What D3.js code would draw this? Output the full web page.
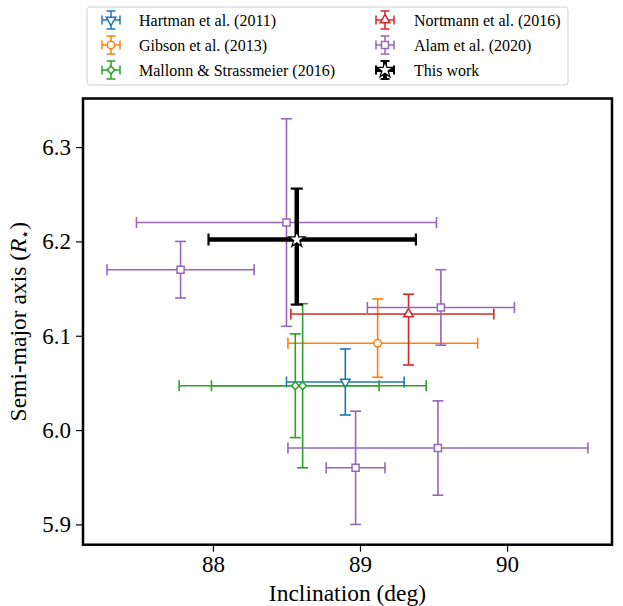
<!DOCTYPE html>
<html>
<head>
<meta charset="utf-8">
<script src="https://cdn.jsdelivr.net/npm/d3@7"></script>
<style>
  body { margin: 0; background: #fff; }
  svg text { font-family: 'Liberation Serif', 'Times New Roman', serif; fill: #000; }
</style>
</head>
<body>
<div id="chart"></div>
<script>
var svgWidth = 623;
var svgHeight = 606;

var margin = { top: 98.5, right: 11, bottom: 61.3, left: 83 };
var width = svgWidth - margin.left - margin.right;
var height = svgHeight - margin.top - margin.bottom;

// studies (legend order)
var studies = ["Hartman et al. (2011)", "Gibson et al. (2013)", "Mallonn & Strassmeier (2016)",
               "Nortmann et al. (2016)", "Alam et al. (2020)", "This work"];

// one entry per measurement
var pointStudy = [0, 1, 2, 2, 3, 4, 4, 4, 4, 4, 5];
var incl       = [88.90, 89.12, 88.56, 88.61, 89.33, 88.50, 87.78, 89.55, 89.53, 88.97, 88.57];
var inclLo     = [0.40, 0.61, 0.57, 0.84, 0.80, 1.02, 0.50, 0.50, 1.02, 0.20, 0.60];
var inclHi     = [0.40, 0.68, 0.57, 0.84, 0.58, 1.02, 0.50, 0.50, 1.02, 0.20, 0.81];
var semiA      = [6.051, 6.092, 6.047, 6.047, 6.123, 6.220, 6.170, 6.130, 5.981, 5.960, 6.202];
var semiLo     = [0.035, 0.036, 0.055, 0.087, 0.054, 0.110, 0.030, 0.040, 0.050, 0.060, 0.069];
var semiHi     = [0.035, 0.047, 0.055, 0.087, 0.021, 0.110, 0.030, 0.040, 0.050, 0.060, 0.054];

var xTicks = [88, 89, 90];
var yTicks = [5.9, 6.0, 6.1, 6.2, 6.3];

// styling per study
var colors = ["#1f77b4", "#ff7f0e", "#2ca02c", "#d62728", "#9467bd", "#000000"];
var markers = ["down", "circle", "diamond", "up", "square", "star"];

var serif = "'Liberation Serif', 'Times New Roman', serif";

var data = pointStudy.map(function(s, i) {
  return { s: s, x: incl[i], xlo: inclLo[i], xhi: inclHi[i], y: semiA[i], ylo: semiLo[i], yhi: semiHi[i] };
});

var svg = d3.select("#chart")
  .append("svg")
  .attr("width", svgWidth)
  .attr("height", svgHeight)
  .attr("font-family", serif);

var chartGroup = svg.append("g")
  .attr("transform", `translate(${margin.left}, ${margin.top})`);

// matplotlib-like 5% margins
function padded(lo, hi) {
  var r = hi - lo;
  return [lo - 0.05 * r, hi + 0.05 * r];
}

var xLinearScale = d3.scaleLinear()
  .domain(padded(d3.min(data, d => d.x - d.xlo), d3.max(data, d => d.x + d.xhi)))
  .range([0, width]);

var yLinearScale = d3.scaleLinear()
  .domain(padded(d3.min(data, d => d.y - d.ylo), d3.max(data, d => d.y + d.yhi)))
  .range([height, 0]);

// axes
var bottomAxis = d3.axisBottom(xLinearScale).tickValues(xTicks).tickSize(7).tickPadding(4).tickFormat(d3.format("d"));
var leftAxis = d3.axisLeft(yLinearScale).tickValues(yTicks).tickSize(7).tickPadding(5).tickFormat(d3.format(".1f"));

var xAxis = chartGroup.append("g")
  .attr("transform", `translate(0, ${height})`)
  .call(bottomAxis);
var yAxis = chartGroup.append("g")
  .call(leftAxis);

[xAxis, yAxis].forEach(function(ax) {
  ax.attr("font-family", serif).attr("font-size", 23);
  ax.select(".domain").remove();
  ax.selectAll("line").attr("stroke", "#000").attr("stroke-width", 1.2);
  ax.selectAll("text").attr("fill", "#000");
});

function markerPath(type) {
  if (type === "down") return d3.symbol(d3.symbolTriangle, 40)();
  if (type === "up") return d3.symbol(d3.symbolTriangle, 40)();
  if (type === "circle") return d3.symbol(d3.symbolCircle, 44)();
  if (type === "diamond") return d3.symbol(d3.symbolSquare, 30)();
  if (type === "square") return d3.symbol(d3.symbolSquare, 50)();
  return d3.symbol(d3.symbolStar, 80)();
}
function markerRot(type) {
  if (type === "down") return 180;
  if (type === "diamond") return 45;
  return 0;
}

// error bars + markers
var plotArea = chartGroup.append("g");

studies.forEach(function(name, si) {
  var pts = data.filter(d => d.s === si);
  var c = colors[si];
  var thick = si === 5;
  var lw = thick ? 4.5 : 1.6;
  var cap = thick ? 6 : 5.5;
  var capw = thick ? 2.2 : 1.6;
  var g = plotArea.append("g");

  pts.forEach(function(d) {
    var cx = xLinearScale(d.x), cy = yLinearScale(d.y);
    var x0 = xLinearScale(d.x - d.xlo), x1 = xLinearScale(d.x + d.xhi);
    var y0 = yLinearScale(d.y - d.ylo), y1 = yLinearScale(d.y + d.yhi);
    g.append("line").attr("x1", x0).attr("x2", x1).attr("y1", cy).attr("y2", cy)
      .attr("stroke", c).attr("stroke-width", lw);
    g.append("line").attr("x1", cx).attr("x2", cx).attr("y1", y0).attr("y2", y1)
      .attr("stroke", c).attr("stroke-width", lw);
    [x0, x1].forEach(function(xx) {
      g.append("line").attr("x1", xx).attr("x2", xx).attr("y1", cy - cap).attr("y2", cy + cap)
        .attr("stroke", c).attr("stroke-width", capw);
    });
    [y0, y1].forEach(function(yy) {
      g.append("line").attr("x1", cx - cap).attr("x2", cx + cap).attr("y1", yy).attr("y2", yy)
        .attr("stroke", c).attr("stroke-width", capw);
    });
  });

  g.selectAll("path.mk")
    .data(pts)
    .enter()
    .append("path")
    .attr("class", "mk")
    .attr("d", markerPath(markers[si]))
    .attr("transform", d => `translate(${xLinearScale(d.x)}, ${yLinearScale(d.y)}) rotate(${markerRot(markers[si])})`)
    .attr("fill", "#fff")
    .attr("stroke", c)
    .attr("stroke-width", thick ? 1.2 : 1.5);
});

// frame
chartGroup.append("rect")
  .attr("x", 0).attr("y", 0)
  .attr("width", width).attr("height", height)
  .attr("fill", "none")
  .attr("stroke", "#000")
  .attr("stroke-width", 2.5);

// axis labels
chartGroup.append("text")
  .attr("x", width / 2)
  .attr("y", height + 56)
  .attr("text-anchor", "middle")
  .attr("font-size", 23.5)
  .text("Inclination (deg)");

var yLabel = chartGroup.append("text")
  .attr("transform", "rotate(-90)")
  .attr("x", -height / 2)
  .attr("y", -57)
  .attr("text-anchor", "middle")
  .attr("font-size", 23.5);
yLabel.append("tspan").text("Semi-major axis (");
yLabel.append("tspan").attr("font-style", "italic").text("R");
yLabel.append("tspan").attr("dy", "4").attr("font-size", 15).text("\u22C6");
yLabel.append("tspan").attr("dy", "-4").text(")");

// legend
var legend = svg.append("g");
legend.append("rect")
  .attr("x", 87).attr("y", 7)
  .attr("width", 481).attr("height", 78)
  .attr("rx", 3)
  .attr("fill", "#fff")
  .attr("fill-opacity", 0.8)
  .attr("stroke", "#d0d0d0")
  .attr("stroke-width", 1);

studies.forEach(function(name, si) {
  var col = Math.floor(si / 3), row = si % 3;
  var mx = col === 0 ? 111 : 385;
  var my = 20 + row * 25;
  var c = colors[si];
  var h = 9, cap = 4.5;
  var thick = si === 5;
  var lw = thick ? 4 : 1.5;
  var lg = legend.append("g");
  lg.append("line").attr("x1", mx - h).attr("x2", mx + h).attr("y1", my).attr("y2", my)
    .attr("stroke", c).attr("stroke-width", lw);
  lg.append("line").attr("x1", mx).attr("x2", mx).attr("y1", my - h).attr("y2", my + h)
    .attr("stroke", c).attr("stroke-width", lw);
  [-h, h].forEach(function(o) {
    lg.append("line").attr("x1", mx + o).attr("x2", mx + o).attr("y1", my - cap).attr("y2", my + cap)
      .attr("stroke", c).attr("stroke-width", thick ? 2 : 1.5);
    lg.append("line").attr("x1", mx - cap).attr("x2", mx + cap).attr("y1", my + o).attr("y2", my + o)
      .attr("stroke", c).attr("stroke-width", thick ? 2 : 1.5);
  });
  lg.append("path")
    .attr("d", markerPath(markers[si]))
    .attr("transform", `translate(${mx}, ${my}) rotate(${markerRot(markers[si])})`)
    .attr("fill", "#fff")
    .attr("stroke", c)
    .attr("stroke-width", thick ? 1.2 : 1.5);
  lg.append("text")
    .attr("x", col === 0 ? 139 : 414)
    .attr("y", my)
    .attr("dy", "0.35em")
    .attr("font-size", 16)
    .text(name);
});
</script>
</body>
</html>
